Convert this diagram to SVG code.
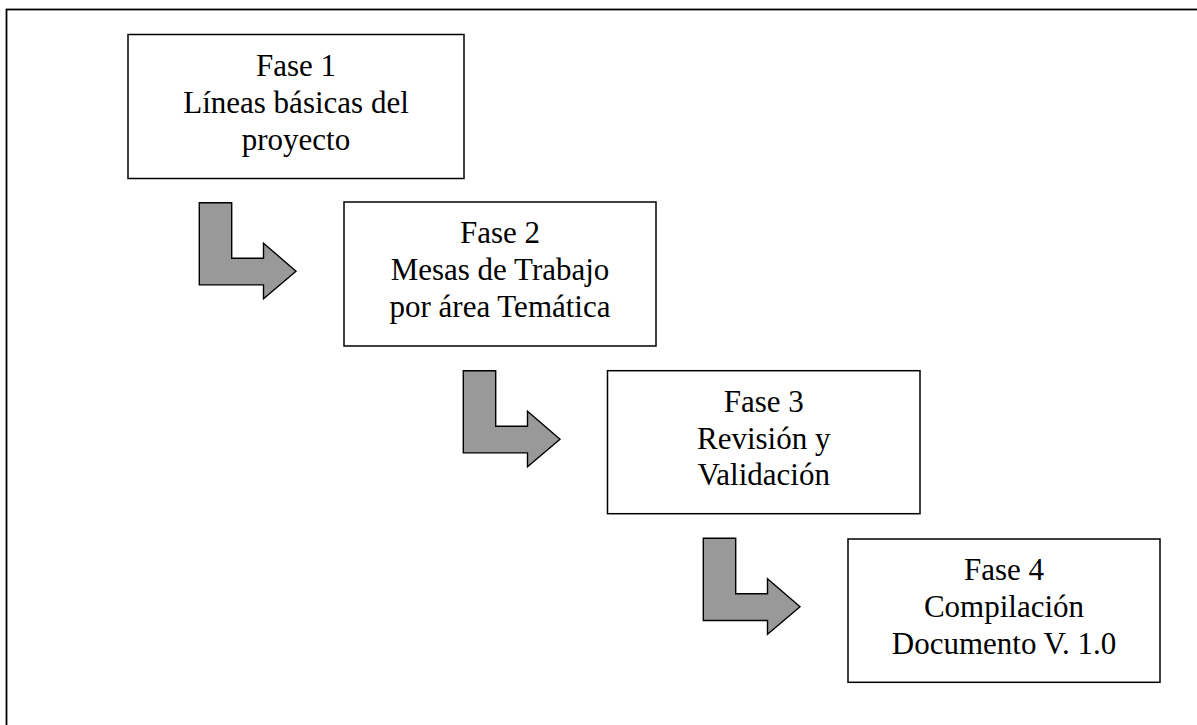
<svg xmlns="http://www.w3.org/2000/svg" width="1197" height="725" viewBox="0 0 1197 725">
  <style>
    .box { fill: #ffffff; stroke: #000000; stroke-width: 1.5; }
    .lbl { font-family: "Liberation Serif", "Times New Roman", serif; font-size: 31px; fill: #000000; text-anchor: middle; }
    .arr { fill: #999999; stroke: #000000; stroke-width: 1.4; stroke-linejoin: miter; }
  </style>
  <defs>
    <path id="bent" d="M0,0 L32.4,0 L32.4,55.5 L64.2,55.5 L64.2,40.5 L96.7,68.5 L64.2,96 L64.2,82.2 L0,82.2 Z"/>
  </defs>
  <rect x="0" y="0" width="1197" height="725" fill="#ffffff"/>
  <rect id="frame" x="6.5" y="9.5" width="1200" height="730" fill="none" stroke="#000000" stroke-width="1.8"/>

  <g id="connectors">
    <use href="#bent" class="arr" x="199.3" y="202.7"/>
    <use href="#bent" class="arr" x="463.3" y="370.7"/>
    <use href="#bent" class="arr" x="703.3" y="538.3"/>
  </g>

  <g id="fase1">
    <rect class="box" x="128" y="34.5" width="336" height="144"/>
    <text class="lbl" x="296" y="75.5">Fase 1</text>
    <text class="lbl" x="296" y="112.5">Líneas básicas del</text>
    <text class="lbl" x="296" y="149.5">proyecto</text>
  </g>

  <g id="fase2">
    <rect class="box" x="344" y="202" width="312" height="144"/>
    <text class="lbl" x="500" y="243">Fase 2</text>
    <text class="lbl" x="500" y="280">Mesas de Trabajo</text>
    <text class="lbl" x="500" y="317">por área Temática</text>
  </g>

  <g id="fase3">
    <rect class="box" x="607.5" y="370.7" width="312.5" height="143"/>
    <text class="lbl" x="763.7" y="411.7">Fase 3</text>
    <text class="lbl" x="763.7" y="448.5">Revisión y</text>
    <text class="lbl" x="763.7" y="485.3">Validación</text>
  </g>

  <g id="fase4">
    <rect class="box" x="848" y="539" width="312" height="143.3"/>
    <text class="lbl" x="1004" y="580">Fase 4</text>
    <text class="lbl" x="1004" y="616.8">Compilación</text>
    <text class="lbl" x="1004" y="653.6">Documento V. 1.0</text>
  </g>
</svg>
